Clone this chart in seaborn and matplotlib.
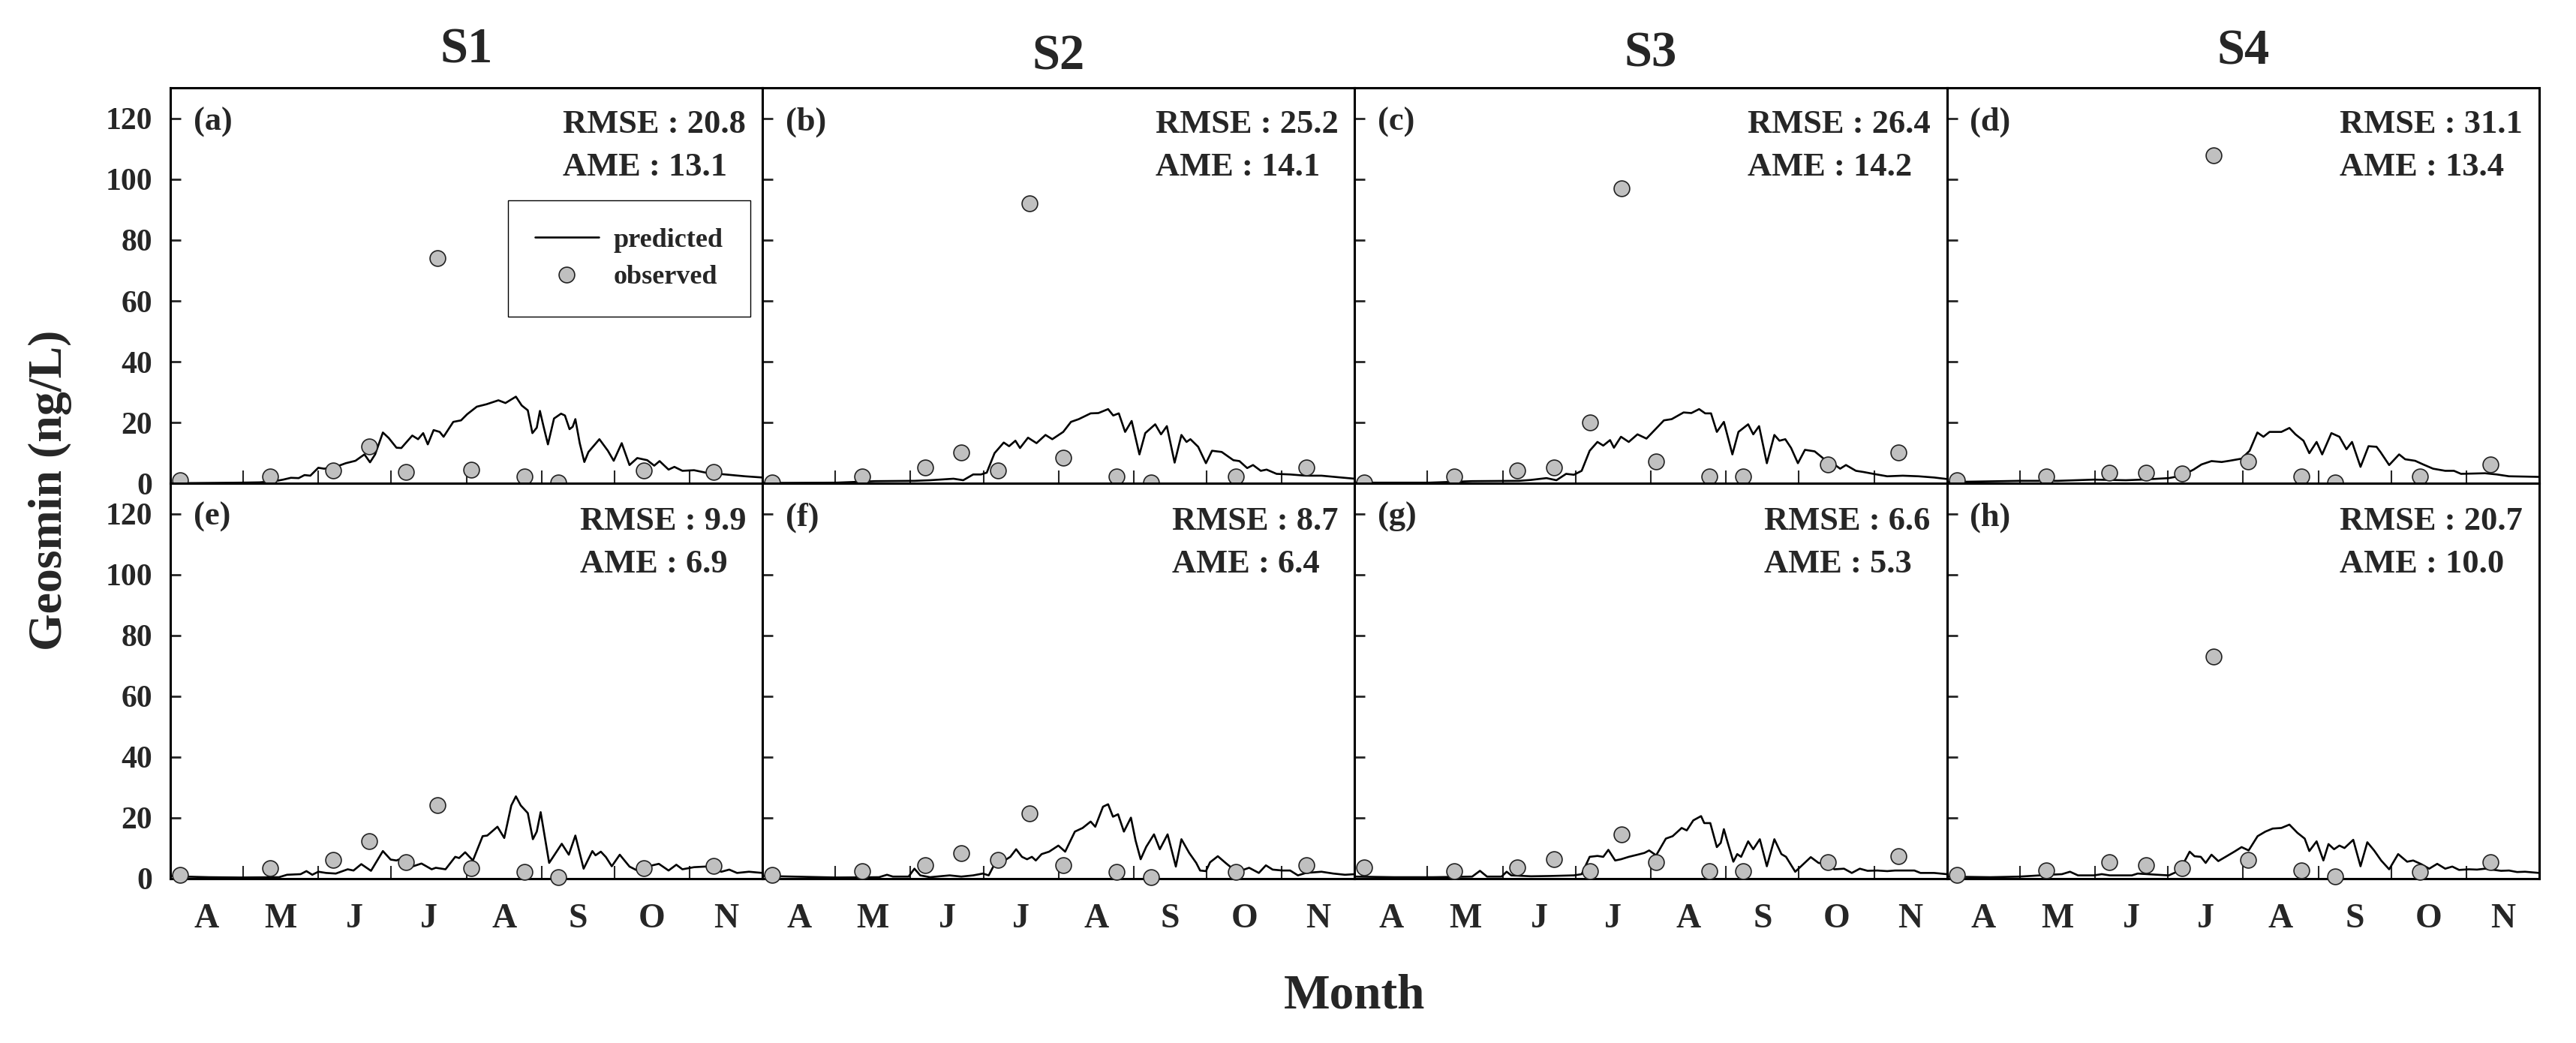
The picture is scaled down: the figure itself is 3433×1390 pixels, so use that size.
import matplotlib
matplotlib.use("Agg")
import matplotlib.pyplot as plt
from matplotlib.lines import Line2D
from matplotlib.ticker import FixedLocator, FixedFormatter, NullFormatter
import seaborn as sns

# ---------------- data (x = days since 1 April) ----------------
month_labels = ["A", "M", "J", "J", "A", "S", "O", "N"]
month_start_days = [0, 30, 61, 91, 122, 153, 183, 214, 244]
site_titles = ["S1", "S2", "S3", "S4"]
panel_tags = ["(a)", "(b)", "(c)", "(d)", "(e)", "(f)", "(g)", "(h)"]
rmse_vals = [20.8, 25.2, 26.4, 31.1, 9.9, 8.7, 6.6, 20.7]
ame_vals = [13.1, 14.1, 14.2, 13.4, 6.9, 6.4, 5.3, 10.0]

obs_day = [4, 41, 67, 82, 97, 110, 124, 146, 160, 195, 224]
obs_a = [1.1, 2.3, 4.1, 12.1, 3.6, 74.0, 4.4, 2.3, 0.25, 4.1, 3.6]
obs_b = [0.25, 2.3, 5.2, 10.2, 4.1, 92.0, 8.3, 2.3, 0.25, 2.3, 5.2]
obs_c = [0.25, 2.3, 4.1, 5.2, 20.1, 97.0, 7.2, 2.3, 2.3, 6.1, 10.2]
obs_d = [1.0, 2.3, 3.5, 3.5, 3.1, 108.0, 7.2, 2.3, 0.25, 2.3, 6.2]
obs_e = [1.2, 3.3, 6.2, 12.2, 5.3, 24.2, 3.3, 2.2, 0.4, 3.3, 4.1]
obs_f = [1.2, 2.5, 4.3, 8.4, 6.2, 21.3, 4.3, 2.2, 0.4, 2.2, 4.3]
obs_g = [3.5, 2.5, 3.5, 6.3, 2.5, 14.4, 5.3, 2.5, 2.5, 5.3, 7.3]
obs_h = [1.2, 2.6, 5.3, 4.3, 3.3, 73.0, 6.2, 2.6, 0.6, 2.2, 5.3]

# predicted (day, value)
pred_a = [(0, 0), (28.7, 0.2), (36.8, 0.3), (43.2, 0.7), (46.5, 1.2), (49.7, 1.8), (52.9, 1.7),
          (55.3, 2.7), (57.7, 2.5), (61, 5.1), (63.4, 4.8), (68.2, 5.4), (72.3, 6.6), (76.3, 7.4),
          (80, 9.5), (82.3, 6.9), (84.4, 9.5), (87.6, 16.7), (90, 14.9), (93.2, 11.7), (95.2, 11.6),
          (99.7, 15.7), (102.1, 14.5), (104.2, 16.5), (106.1, 12.8), (108.5, 17.5), (111, 16.9),
          (112.6, 15.3), (116.6, 20.2), (119.8, 20.7), (122.3, 22.7), (126.3, 25.2), (130.3, 26.0),
          (135.2, 27.3), (138.1, 26.4), (142.4, 28.5), (144.8, 25.6), (147.3, 24.0), (149.2, 16.5),
          (151, 18.3), (152.3, 23.8), (153.7, 19.0), (155.6, 12.8), (158.1, 21.3), (161, 22.9),
          (162.6, 22.3), (164.5, 17.8), (165.8, 18.6), (166.9, 21.1), (168.7, 13.2), (170.6, 7.0),
          (172.3, 10.3), (176.8, 14.5), (180.3, 10.7), (182.7, 7.4), (186, 13.2), (189.2, 6.0),
          (192.4, 8.3), (196.5, 7.6), (199.4, 5.8), (201.6, 7.3), (205.3, 4.5), (207.7, 5.4),
          (211, 4.1), (215.8, 4.3), (220.6, 3.5), (228.7, 2.9), (236.8, 2.3), (244, 1.9)]
pred_b = [(0, 0.1), (30.3, 0.2), (46.5, 0.7), (62.6, 0.8), (69, 1.0), (78.7, 1.5), (82.7, 1.0),
          (86.8, 2.9), (90, 2.9), (92.4, 3.5), (95.6, 9.9), (99.4, 13.4), (101.6, 12.2), (104.2, 14.0),
          (106.1, 11.6), (109.4, 15.0), (112.9, 13.2), (116.6, 15.9), (119.4, 14.5), (123.9, 16.9),
          (127.1, 20.2), (130.3, 21.1), (135.2, 23.0), (138.4, 23.1), (142.4, 24.4), (144.5, 22.3),
          (146.8, 23.0), (149.4, 16.9), (152.1, 20.5), (155.3, 9.5), (157.7, 16.5), (161.8, 19.4),
          (164.2, 16.1), (166.6, 18.8), (169.8, 6.8), (172.6, 15.9), (174.7, 13.6), (176.3, 14.5),
          (179.5, 12.0), (182.7, 6.6), (185.2, 10.7), (189.2, 10.3), (194, 7.6), (196.5, 7.3),
          (199.7, 5.0), (202.1, 6.0), (205.3, 4.1), (207.7, 4.5), (211.8, 3.1), (217.4, 2.9),
          (223.9, 2.5), (230.3, 2.5), (238.4, 1.9), (244, 1.5)]
pred_c = [(0, 0.2), (30.6, 0.2), (48.4, 0.7), (67.7, 0.8), (72.6, 1.1), (79, 1.7), (83.1, 1.0),
          (87.1, 3.1), (90.3, 2.8), (93.5, 4.1), (96.8, 10.7), (100, 13.6), (102.4, 12.4),
          (105.2, 14.2), (106.8, 11.7), (109.7, 15.3), (112.9, 13.6), (116.5, 16.1), (120.2, 14.7),
          (122.6, 16.7), (127.4, 20.7), (130.6, 21.1), (135.5, 23.3), (138.7, 23.1), (141.9, 24.4),
          (144.4, 23.0), (146.8, 23.0), (149.2, 16.9), (152.1, 20.2), (155.6, 9.5), (158.1, 16.9),
          (162.1, 19.4), (164.2, 16.1), (166.6, 18.8), (169.8, 6.6), (172.9, 15.9), (175, 14.0),
          (177.4, 14.5), (179.8, 11.6), (182.6, 6.6), (185.5, 11.0), (189.5, 10.5), (193.5, 7.9),
          (197.6, 6.2), (200, 4.8), (202.4, 6.0), (206.5, 4.1), (209.7, 3.7), (213.7, 3.1),
          (219.4, 2.3), (225.8, 2.5), (232.3, 2.3), (238.7, 1.9), (244, 1.4)]
pred_d = [(0, 0.4), (22.7, 0.7), (30, 0.8), (45.7, 0.8), (60.5, 1.2), (73.7, 1.0), (80.3, 1.2),
          (91.4, 1.7), (96.7, 2.5), (101.6, 4.5), (104.9, 6.2), (109, 7.3), (113.2, 7.0), (116.4, 7.4),
          (121.4, 8.1), (124.7, 10.7), (127.9, 16.7), (130.4, 15.3), (132.9, 16.9), (137.8, 16.9),
          (141.1, 18.2), (143.6, 16.1), (146.9, 14.0), (149.3, 9.9), (152.3, 13.6), (154.6, 9.5),
          (158.4, 16.5), (161.7, 15.3), (164.6, 11.2), (166.9, 13.6), (170.4, 5.4), (173.7, 12.2),
          (177, 12.0), (178.6, 10.3), (182.2, 6.0), (186.3, 9.5), (188.8, 7.9), (192.9, 7.4),
          (196.2, 6.2), (200.3, 4.8), (205.3, 4.1), (208.9, 4.1), (211.8, 3.1), (221.7, 3.3),
          (226.6, 2.9), (231.6, 2.3), (238.2, 2.2), (244, 2.1)]
pred_e = [(0, 0.8), (6.1, 0.6), (15.8, 0.4), (28.7, 0.3), (44.8, 0.4), (48.1, 1.2), (53.7, 1.4),
          (56.1, 2.4), (58.5, 1.2), (61, 2.2), (64.2, 1.8), (68.2, 1.6), (73.1, 3.0), (75.5, 2.6),
          (78.7, 4.7), (82.7, 2.5), (87.6, 9.0), (90.8, 6.2), (93.2, 5.9), (95.6, 6.7), (99.7, 3.9),
          (103.5, 4.9), (107.7, 3.0), (109.4, 3.5), (113.4, 3.0), (117.4, 7.1), (119, 6.7),
          (121.5, 8.6), (124.7, 5.9), (128.7, 13.9), (130.6, 14.1), (134.8, 17.0), (137.6, 13.3),
          (140.5, 24.0), (142.4, 27.0), (144.4, 24.0), (147.3, 21.5), (149.4, 12.9), (151, 15.4),
          (152.6, 21.8), (156.1, 5.1), (158.5, 8.0), (161.3, 11.4), (164.2, 7.8), (166.9, 14.1),
          (170.3, 3.2), (173.9, 9.0), (175.2, 7.6), (177.4, 8.8), (179.5, 7.0), (181.9, 4.0),
          (185.2, 7.8), (189.2, 3.9), (192.4, 2.6), (196.5, 3.9), (201.3, 4.8), (205.3, 2.6),
          (208.5, 4.5), (211, 3.0), (215.8, 3.7), (220.6, 3.9), (223.9, 2.9), (227.1, 2.2),
          (230.3, 2.9), (233.5, 1.8), (238.4, 2.2), (244, 1.8)]
pred_f = [(0, 0.8), (12.6, 0.6), (30.3, 0.3), (48, 0.4), (51.3, 1.2), (53.7, 0.6), (60.2, 0.6),
          (62.6, 3.2), (65, 1.0), (69, 0.4), (77.1, 1.0), (81.9, 0.6), (86.8, 1.0), (90.8, 1.6),
          (93.2, 1.0), (95.6, 4.7), (99.7, 5.9), (102.1, 7.1), (104.5, 9.6), (106.9, 7.1), (109, 6.3),
          (111, 7.1), (112.6, 5.9), (115, 8.0), (118.1, 8.8), (121.9, 10.8), (124.7, 8.8),
          (128.7, 15.4), (131.9, 16.6), (135.2, 18.7), (137.1, 17.0), (140.3, 23.6), (142.4, 24.4),
          (144.4, 20.3), (146.5, 21.1), (148.9, 15.4), (151.8, 20.0), (153.7, 12.5), (155.8, 6.3),
          (158.1, 10.4), (161.3, 14.5), (163.7, 9.6), (166.9, 14.5), (170.3, 3.9), (172.6, 12.9),
          (175.8, 8.4), (178.7, 5.1), (180.3, 2.6), (182.7, 2.4), (184.4, 5.3), (187.6, 7.3),
          (190.8, 5.1), (194, 3.0), (197.3, 2.6), (200.5, 3.5), (204.5, 1.8), (207.4, 4.3),
          (210.2, 2.9), (214.2, 2.6), (217.4, 2.6), (220.6, 1.0), (223.9, 1.8), (230.3, 2.2),
          (235.2, 1.6), (240, 1.2), (244, 1.4)]
pred_g = [(0, 0.6), (16.1, 0.4), (32.3, 0.4), (48.4, 0.6), (51.6, 2.5), (54.5, 0.6), (60.5, 0.6),
          (62.6, 2.2), (64.5, 1.0), (72.6, 0.7), (80.6, 0.8), (90.3, 1.0), (93.5, 1.4), (96.8, 7.1),
          (100, 7.4), (102.4, 7.1), (104.5, 9.4), (107.3, 5.9), (109.7, 6.3), (112.9, 7.1),
          (116.5, 7.8), (119.4, 8.4), (121.3, 9.2), (124.2, 7.6), (128.2, 13.1), (131, 13.9),
          (134.7, 16.6), (136.8, 15.8), (139.5, 19.1), (142.7, 20.5), (144, 18.2), (146.5, 18.2),
          (149.2, 10.3), (150.8, 11.7), (152.1, 16.2), (153.7, 11.7), (156, 5.5), (157.6, 8.0),
          (159.2, 7.1), (162.1, 12.2), (164.2, 9.6), (166.9, 12.9), (169.8, 4.0), (172.9, 12.9),
          (175.8, 8.0), (177.7, 7.1), (181.5, 2.2), (183.9, 4.0), (187.9, 7.0), (191.1, 5.1),
          (194.4, 4.7), (197.6, 3.0), (201.6, 3.2), (204.8, 1.8), (208.1, 3.2), (211.3, 2.5),
          (215.3, 2.6), (219.4, 2.4), (222.6, 2.6), (230.6, 2.6), (233.1, 1.8), (238.7, 1.8),
          (244, 1.4)]
pred_h = [(0, 0.6), (17.8, 0.4), (30.1, 0.6), (42.4, 1.2), (47.4, 1.4), (50.7, 2.2), (54, 1.0),
          (60.5, 1.0), (63.8, 1.4), (67.1, 1.0), (76.2, 1.0), (78.6, 1.6), (86.8, 1.2), (91.4, 1.0),
          (95.9, 2.6), (100, 8.8), (102, 7.3), (104.6, 7.1), (106.6, 5.1), (109, 7.8), (111.8, 5.7),
          (114.8, 7.1), (118.4, 8.8), (121.4, 10.3), (124.3, 9.2), (128, 13.9), (131.2, 15.4),
          (134.2, 16.4), (137.8, 16.6), (141.1, 17.7), (144.4, 15.0), (147.4, 13.1), (149.3, 9.0),
          (152.3, 12.2), (155.1, 5.9), (157.2, 11.3), (159.5, 9.6), (161.7, 10.8), (163.8, 10.0),
          (167.4, 12.7), (170.4, 4.0), (173.2, 11.9), (176, 9.2), (178.9, 5.9), (182.2, 3.0),
          (185.9, 8.0), (189.6, 5.5), (192.1, 5.9), (195.4, 4.7), (198.7, 3.2), (202, 4.8),
          (205.3, 3.2), (208.2, 3.9), (211, 2.8), (215.1, 3.0), (218.4, 2.9), (221.7, 3.2),
          (228.3, 2.5), (231.6, 2.6), (234.9, 2.1), (238.2, 2.2), (244, 1.8)]

observed = [obs_a, obs_b, obs_c, obs_d, obs_e, obs_f, obs_g, obs_h]
predicted = [pred_a, pred_b, pred_c, pred_d, pred_e, pred_f, pred_g, pred_h]

# ---------------- style ----------------
sns.set_style("white")
plt.rcParams["font.family"] = ["Liberation Serif", "DejaVu Serif"]
plt.rcParams["font.weight"] = "bold"
plt.rcParams["axes.titleweight"] = "bold"

LINE_C = "black"
FILL_C = "#c0c0c0"
EDGE_C = "#222222"

fig, axes = plt.subplots(2, 4, figsize=(34.33, 13.90), dpi=100)
fig.subplots_adjust(left=0.0661, right=0.9857, top=0.9155, bottom=0.1578,
                    wspace=0, hspace=0)

mid_month = [(month_start_days[i] + month_start_days[i + 1]) / 2 for i in range(len(month_labels))]
title_pads = [24.5, 18, 21, 23]

for k, ax in enumerate(axes.flat):
    row, col = divmod(k, 4)
    pdays = [p[0] for p in predicted[k]]
    pvals = [p[1] for p in predicted[k]]
    sns.lineplot(x=pdays, y=pvals, ax=ax, color=LINE_C, linewidth=1.9,
                 estimator=None, sort=False, zorder=3)
    sns.scatterplot(x=obs_day, y=observed[k], ax=ax, s=225, color=FILL_C,
                    edgecolor=EDGE_C, linewidth=1.2, zorder=6, clip_on=False,
                    legend=False)
    ax.set_xlim(month_start_days[0], month_start_days[-1])
    ax.set_ylim(0, 130)
    ax.set_yticks([0, 20, 40, 60, 80, 100, 120])
    ax.xaxis.set_major_locator(FixedLocator(month_start_days[1:-1]))
    ax.xaxis.set_major_formatter(NullFormatter())
    ax.xaxis.set_minor_locator(FixedLocator(mid_month))
    if row == 1:
        ax.xaxis.set_minor_formatter(FixedFormatter(month_labels))
    else:
        ax.xaxis.set_minor_formatter(NullFormatter())
    ax.tick_params(axis="x", which="major", direction="in", length=12, width=1.5,
                   bottom=True, top=False)
    ax.tick_params(axis="x", which="minor", length=0, pad=24, labelsize=33,
                   bottom=True, labelbottom=(row == 1))
    ax.tick_params(axis="y", which="major", direction="in", length=10, width=2,
                   left=True, right=False, labelsize=30, pad=17,
                   labelleft=(col == 0))
    ax.set_xlabel("")
    ax.set_ylabel("")
    for sp in ax.spines.values():
        sp.set_linewidth(2.2)
        sp.set_color("black")
    ax.text(0.039, 0.9525, panel_tags[k], transform=ax.transAxes, ha="left", va="top",
            fontsize=32, fontweight="bold")
    ax.text(0.972, 0.946 if row == 0 else 0.941,
            f"RMSE : {rmse_vals[k]:.1f}\nAME : {ame_vals[k]:.1f}",
            transform=ax.transAxes, ha="right", va="top", multialignment="left",
            fontsize=32, fontweight="bold", linespacing=1.55)
    if row == 0:
        ax.set_title(site_titles[col], fontsize=48, fontweight="bold", pad=title_pads[col])

# legend in panel (a)
handles = [Line2D([], [], color=LINE_C, linewidth=1.9),
           Line2D([], [], linestyle="none", marker="o", markersize=15,
                  markerfacecolor=FILL_C, markeredgecolor=EDGE_C, markeredgewidth=1.2)]
leg = axes[0, 0].legend(handles, ["predicted", "observed"], loc="upper left",
                        bbox_to_anchor=(0.570, 0.7155), borderaxespad=0,
                        prop={"size": 26, "weight": "bold"}, frameon=True, fancybox=False,
                        framealpha=1, edgecolor="black", borderpad=1.0, labelspacing=0.45,
                        handlelength=2.35, handletextpad=0.55)
leg.get_frame().set_linewidth(1.0)

fig.text(0.0195, 0.530, "Geosmin (ng/L)", rotation=90, ha="center", va="center",
         fontsize=46, fontweight="bold")
fig.text(0.5258, 0.0338, "Month", ha="center", va="baseline", fontsize=47, fontweight="bold")

fig.savefig("out.png", dpi=100)
